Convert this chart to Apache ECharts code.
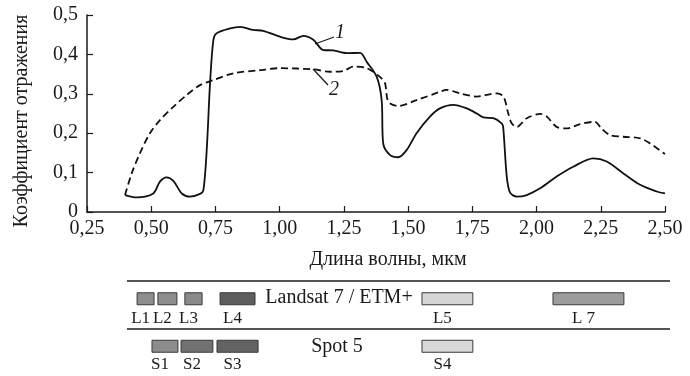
<!DOCTYPE html>
<html><head><meta charset="utf-8">
<script src="https://cdn.jsdelivr.net/npm/echarts@6/dist/echarts.min.js"></script>
<style>html,body{margin:0;padding:0;background:#fff}#c{width:690px;height:376px}</style>
</head><body><div id="c"></div>
<script>
// Curve 1 (solid): [wavelength, reflectance]
const curve1 = [
 [0.398,0.043],[0.443,0.037],[0.508,0.047],[0.534,0.077],[0.56,0.088],[0.586,0.079],[0.619,0.047],
 [0.651,0.039],[0.69,0.046],[0.703,0.055],[0.716,0.157],[0.729,0.327],[0.742,0.437],[0.755,0.454],
 [0.807,0.466],[0.846,0.470],[0.897,0.462],[0.936,0.460],[1.001,0.445],[1.053,0.438],[1.092,0.447],
 [1.131,0.437],[1.17,0.411],[1.209,0.410],[1.261,0.403],[1.313,0.404],[1.339,0.381],[1.378,0.343],
 [1.397,0.284],[1.403,0.174],[1.429,0.145],[1.462,0.139],[1.494,0.157],[1.533,0.2],[1.585,0.242],
 [1.624,0.263],[1.676,0.272],[1.728,0.263],[1.767,0.25],[1.793,0.24],[1.832,0.238],[1.864,0.225],
 [1.87,0.216],[1.884,0.09],[1.897,0.049],[1.923,0.039],[1.962,0.043],[2.014,0.06],[2.078,0.09],
 [2.143,0.115],[2.221,0.136],[2.273,0.128],[2.338,0.098],[2.403,0.069],[2.468,0.052],[2.5,0.047]
];
// Curve 2 (dashed)
const curve2 = [
 [0.398,0.043],[0.424,0.098],[0.456,0.149],[0.495,0.2],[0.534,0.233],[0.586,0.267],[0.638,0.297],
 [0.69,0.322],[0.742,0.335],[0.82,0.352],[0.923,0.36],[1.001,0.365],[1.131,0.362],[1.196,0.356],
 [1.248,0.358],[1.287,0.369],[1.339,0.365],[1.39,0.343],[1.41,0.327],[1.423,0.28],[1.462,0.269],
 [1.533,0.284],[1.624,0.305],[1.65,0.31],[1.702,0.301],[1.767,0.293],[1.845,0.301],[1.871,0.293],
 [1.89,0.25],[1.903,0.225],[1.923,0.216],[1.962,0.238],[2.014,0.249],[2.04,0.242],[2.078,0.216],
 [2.117,0.212],[2.169,0.223],[2.227,0.229],[2.253,0.212],[2.286,0.195],[2.338,0.191],[2.403,0.187],
 [2.442,0.174],[2.5,0.147]
];
const xTicks = ['0,25','0,50','0,75','1,00','1,25','1,50','1,75','2,00','2,25','2,50'];
const yTicks = ['0','0,1','0,2','0,3','0,4','0,5'];
// Sensor bands
const bandNames = ['L1','L2','L3','L4','L5','L 7','S1','S2','S3','S4'];
const bandStart = [0.445,0.526,0.631,0.768,1.554,2.064,0.503,0.616,0.756,1.554];
const bandEnd   = [0.511,0.600,0.698,0.904,1.752,2.340,0.604,0.740,0.916,1.752];
const bandRow   = ['Landsat','Landsat','Landsat','Landsat','Landsat','Landsat','Spot','Spot','Spot','Spot'];
const rows = ['Landsat','Spot'];
const bandFill = {L1:'#8e8e8e',L2:'#8e8e8e',L3:'#8a8a8a',L4:'#5e5e5e',L5:'#d6d6d6','L 7':'#9c9c9c',S1:'#8c8c8c',S2:'#727272',S3:'#636363',S4:'#d8d8d8'};

const serif = '"Liberation Serif","Times New Roman",serif';
const chart = echarts.init(document.getElementById('c'));
const bandData = bandNames.map((n,i)=>[bandStart[i], bandEnd[i], bandRow[i], n]);

chart.setOption({
  animation:false,
  grid:[
    {left:87,right:25,top:15,bottom:164},
    {left:87,right:25,top:281,height:96}
  ],
  xAxis:[
    {type:'value',gridIndex:0,min:0.25,max:2.5,interval:0.25,
     axisLine:{lineStyle:{color:'#1a1a1a',width:1.5}},
     axisTick:{inside:true,length:6,lineStyle:{color:'#1a1a1a',width:1.2}},
     axisLabel:{fontFamily:serif,fontSize:20,color:'#1a1a1a',margin:7,
       formatter:(v)=>{const i=Math.round((v-0.25)/0.25);return xTicks[i]||'';}},
     splitLine:{show:false}},
    {type:'value',gridIndex:1,min:0.25,max:2.5,show:false}
  ],
  yAxis:[
    {type:'value',gridIndex:0,min:0,max:0.5,interval:0.1,
     axisLine:{show:true,lineStyle:{color:'#1a1a1a',width:1.5}},
     axisTick:{show:true,inside:true,length:6,lineStyle:{color:'#1a1a1a',width:1.2}},
     axisLabel:{fontFamily:serif,fontSize:20,color:'#1a1a1a',margin:9,
       formatter:(v)=>yTicks[Math.round(v*10)]},
     splitLine:{show:false}},
    {type:'category',gridIndex:1,data:rows,inverse:true,show:false}
  ],
  series:[
    {type:'line',xAxisIndex:0,yAxisIndex:0,data:curve1,smooth:0.3,symbol:'none',
     lineStyle:{color:'#111',width:1.8}},
    {type:'line',xAxisIndex:0,yAxisIndex:0,data:curve2,smooth:0.3,symbol:'none',
     lineStyle:{color:'#111',width:1.8,type:[7,4]}},
    {type:'custom',xAxisIndex:1,yAxisIndex:1,data:bandData,
     renderItem:(params,api)=>{
       const a=api.coord([api.value(0),api.value(2)]);
       const b=api.coord([api.value(1),api.value(2)]);
       const name=bandNames[params.dataIndex];
       const top=a[1]-12;
       const off=bandRow[params.dataIndex]==='Landsat'?26:24;
       return {type:'group',children:[
         {type:'rect',shape:{x:a[0],y:top,width:b[0]-a[0],height:12},
          style:{fill:bandFill[name],stroke:'#3a3a3a',lineWidth:1}},
         {type:'text',style:{text:name,x:(a[0]+b[0])/2-5,y:top+off,align:'center',verticalAlign:'middle',
          font:'17px '+serif,fill:'#1a1a1a'}}
       ]};
     }}
  ],
  graphic:[
    {type:'text',x:22,y:121,rotation:Math.PI/2,style:{text:'Коэффициент отражения',font:'20px '+serif,fill:'#1a1a1a',align:'center',verticalAlign:'middle'}},
    {type:'text',x:388,y:260,style:{text:'Длина волны, мкм',font:'20px '+serif,fill:'#1a1a1a',align:'center',verticalAlign:'middle'}},
    {type:'line',shape:{x1:127,y1:281,x2:670,y2:281},style:{stroke:'#1a1a1a',lineWidth:1.5}},
    {type:'line',shape:{x1:127,y1:329,x2:670,y2:329},style:{stroke:'#1a1a1a',lineWidth:1.5}},
    {type:'text',x:339,y:298,style:{text:'Landsat 7 / ETM+',font:'20px '+serif,fill:'#1a1a1a',align:'center',verticalAlign:'middle'}},
    {type:'text',x:337,y:347,style:{text:'Spot 5',font:'20px '+serif,fill:'#1a1a1a',align:'center',verticalAlign:'middle'}},
    {type:'line',shape:{x1:315,y1:44,x2:334,y2:37},style:{stroke:'#1a1a1a',lineWidth:1.2}},
    {type:'text',x:340,y:33,style:{text:'1',font:'italic 20px '+serif,fill:'#1a1a1a',align:'center',verticalAlign:'middle'}},
    {type:'line',shape:{x1:313,y1:69,x2:328,y2:85},style:{stroke:'#1a1a1a',lineWidth:1.2}},
    {type:'text',x:334,y:90,style:{text:'2',font:'italic 20px '+serif,fill:'#1a1a1a',align:'center',verticalAlign:'middle'}}
  ]
});
</script></body></html>
